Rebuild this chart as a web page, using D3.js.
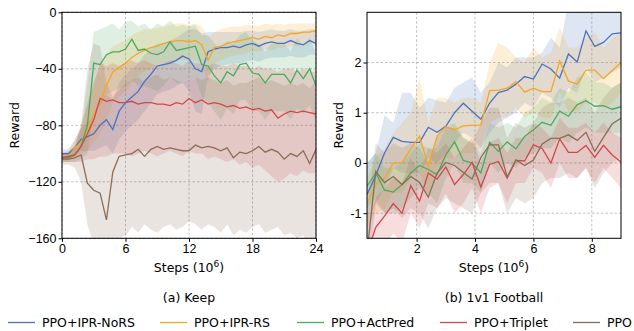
<!DOCTYPE html>
<html>
<head>
    <title>Keep / 1v1 Football</title>
    <script src="https://d3js.org/d3.v7.min.js"></script>
    <style>
        body { margin: 0; background: white; }
        svg { font-family: "DejaVu Sans", sans-serif; }
        .grid line { stroke: #b0b0b0; stroke-dasharray: 2.5,2; stroke-width: 0.8; }
        .tick text { font-size: 12.5px; fill: #000; }
    </style>
</head>
<body>
<svg width="634" height="331"></svg>
<script>
const seriesNames = ["PPO+IPR-NoRS", "PPO+IPR-RS", "PPO+ActPred", "PPO+Triplet", "PPO"];
const colors = ["#4a72c0", "#f5a623", "#4caa5c", "#d5454a", "#8c6c55"];

// ---- (a) Keep : steps 0..24 (x10^6), every 0.6
const keepSteps = [0,0.6,1.2,1.8,2.4,3.0,3.6,4.2,4.8,5.4,6.0,6.6,7.2,7.8,8.4,9.0,9.6,10.2,10.8,11.4,12.0,12.6,13.2,13.8,14.4,15.0,15.6,16.2,16.8,17.4,18.0,18.6,19.2,19.8,20.4,21.0,21.6,22.2,22.8,23.4,24.0];
const keepNoRS = [-100,-100,-96,-90,-88,-86,-80,-76,-83,-70,-64,-60,-56,-49,-44,-38,-37,-36,-34,-31,-33,-40,-42,-28,-26,-25,-25,-24,-25,-23,-22,-24,-22,-21,-22,-22,-20,-22,-23,-20,-22];
const keepNoRSLo = [-104,-104,-102,-98,-98,-98,-96,-94,-100,-90,-84,-80,-76,-70,-64,-58,-56,-55,-52,-50,-56,-70,-72,-45,-40,-38,-37,-36,-36,-35,-34,-35,-33,-32,-32,-32,-31,-32,-32,-30,-30];
const keepNoRSHi = [-97,-97,-90,-82,-78,-74,-64,-58,-62,-50,-44,-40,-36,-30,-26,-22,-22,-20,-18,-15,-12,-12,-15,-14,-14,-14,-14,-14,-14,-13,-13,-14,-13,-12,-13,-13,-12,-13,-13,-12,-12];
const keepRS = [-103,-103,-96,-92,-84,-72,-64,-52,-42,-39,-36,-32,-29,-27,-25,-24,-22,-21,-20,-20,-21,-20,-23,-34,-25,-24,-22,-21,-20,-19,-18,-19,-17,-18,-16,-17,-15,-15,-14,-14,-13];
const keepRSLo = [-106,-106,-102,-100,-98,-92,-86,-76,-64,-60,-56,-50,-45,-42,-40,-38,-36,-35,-34,-34,-34,-34,-36,-50,-36,-34,-32,-31,-30,-29,-28,-28,-26,-27,-25,-25,-24,-24,-23,-22,-22];
const keepRSHi = [-100,-100,-90,-82,-66,-50,-40,-30,-24,-22,-20,-16,-14,-12,-12,-11,-10,-9,-8,-8,-9,-8,-10,-18,-14,-12,-11,-10,-10,-9,-9,-10,-8,-9,-8,-9,-8,-8,-8,-8,-8];
const keepActPred = [-103,-103,-101,-95,-80,-36,-37,-30,-28,-28,-26,-19,-27,-26,-29,-30,-28,-21,-27,-26,-25,-24,-37,-38,-45,-50,-42,-45,-37,-36,-43,-44,-50,-44,-44,-44,-50,-41,-47,-40,-52];
const keepActPredLo = [-106,-106,-106,-104,-100,-70,-66,-58,-56,-54,-52,-48,-52,-52,-54,-56,-52,-46,-50,-50,-48,-46,-60,-64,-70,-76,-68,-72,-62,-62,-70,-70,-76,-70,-70,-70,-76,-68,-72,-66,-78];
const keepActPredHi = [-100,-100,-96,-84,-50,-14,-12,-10,-8,-12,-7,-6,-10,-8,-12,-8,-10,-6,-10,-9,-10,-9,-16,-16,-22,-26,-20,-22,-16,-14,-20,-22,-28,-22,-22,-22,-28,-18,-24,-18,-30];
const keepTriplet = [-103,-102,-101,-95,-86,-76,-61,-63,-62,-64,-64,-63,-65,-64,-64,-65,-65,-66,-64,-65,-61,-64,-62,-65,-64,-65,-67,-66,-68,-67,-69,-68,-70,-69,-75,-72,-70,-71,-70,-71,-72];
const keepTripletLo = [-106,-106,-106,-106,-104,-104,-102,-102,-100,-100,-100,-102,-100,-98,-100,-102,-100,-98,-100,-102,-98,-100,-100,-104,-102,-104,-106,-104,-108,-106,-110,-108,-112,-116,-120,-118,-114,-116,-112,-114,-114];
const keepTripletHi = [-100,-98,-94,-80,-64,-50,-36,-38,-36,-38,-36,-34,-36,-34,-36,-38,-36,-34,-36,-38,-34,-36,-36,-38,-36,-38,-38,-36,-38,-38,-40,-38,-40,-40,-42,-40,-40,-42,-40,-42,-42];
const keepPPO = [-104,-104,-103,-101,-121,-126,-128,-147,-113,-102,-101,-100,-97,-102,-97,-95,-97,-96,-97,-98,-98,-94,-96,-95,-96,-98,-96,-103,-99,-100,-98,-95,-99,-97,-99,-104,-100,-102,-98,-107,-97];
const keepPPOLo = [-108,-108,-110,-120,-150,-165,-170,-175,-170,-160,-158,-152,-156,-150,-154,-156,-152,-150,-154,-152,-148,-150,-154,-150,-152,-156,-150,-158,-154,-156,-152,-150,-156,-154,-152,-158,-156,-160,-158,-170,-175];
const keepPPOHi = [-100,-100,-96,-80,-40,-22,-24,-50,-60,-55,-50,-48,-46,-50,-46,-44,-48,-46,-48,-50,-48,-46,-48,-46,-48,-50,-48,-52,-50,-50,-48,-46,-50,-48,-50,-52,-50,-52,-50,-54,-48];
const keepTicksX = [0, 6, 12, 18, 24];
const keepTicksY = [0, -40, -80, -120, -160];

// ---- (b) 1v1 Football : steps 0.3..9.0 (x10^6), every 0.3
const footSteps = [0.3,0.6,0.9,1.2,1.5,1.8,2.1,2.4,2.7,3.0,3.3,3.6,3.9,4.2,4.5,4.8,5.1,5.4,5.7,6.0,6.3,6.6,6.9,7.2,7.5,7.8,8.1,8.4,8.7,9.0];
const footNoRS = [-0.63,-0.25,0.2,0.51,0.43,0.41,0.41,0.71,0.61,0.73,1.0,1.19,1.03,0.87,1.19,1.40,1.45,1.57,1.72,1.67,1.97,1.87,1.69,2.17,2.01,2.63,2.32,2.40,2.57,2.59];
const footNoRSLo = [-1.2,-0.8,-0.5,-0.1,-0.2,-0.2,-0.2,0.1,0.0,0.2,0.4,0.6,0.5,0.3,0.6,0.8,0.9,1.0,1.2,1.1,1.4,1.3,1.1,1.5,1.4,1.9,1.6,1.7,1.8,1.9];
const footNoRSHi = [0.0,0.2,0.95,0.8,1.4,1.4,1.1,1.3,1.25,1.2,1.5,1.6,1.7,1.4,1.6,2.0,1.9,2.1,2.1,2.1,2.2,2.5,2.3,3.2,3.0,3.4,3.2,3.2,3.3,3.3];
const footRS = [-0.81,-0.43,-0.3,0.0,0.0,0.28,0.53,-0.06,0.53,0.72,0.66,0.74,0.75,0.76,1.44,1.45,1.49,1.62,1.41,1.49,1.42,1.42,2.03,1.63,1.57,1.85,1.85,1.68,1.84,2.0];
const footRSLo = [-1.3,-1.0,-0.9,-0.6,-0.6,-0.3,-0.2,-0.7,-0.1,0.1,0.1,0.2,0.2,0.3,0.8,0.9,0.9,1.1,0.9,1.0,0.9,0.9,1.4,1.0,1.0,1.2,1.2,1.1,1.2,1.4];
const footRSHi = [-0.3,0.1,0.3,0.6,0.8,1.0,1.7,0.8,1.3,1.3,1.2,1.3,1.3,1.2,2.0,2.4,2.3,2.1,2.0,2.3,2.1,2.2,2.7,2.3,2.3,2.5,2.6,2.3,2.5,2.6];
const footActPred = [-0.46,-0.2,-0.54,-0.58,-0.43,-0.2,-0.05,-0.13,-0.23,0.16,0.42,0.05,0.0,-0.2,0.41,0.23,0.42,0.28,0.53,0.66,0.81,0.75,1.03,0.93,1.16,1.24,1.13,1.14,1.07,1.12];
const footActPredLo = [-0.9,-0.7,-1.0,-1.0,-0.9,-0.7,-0.5,-0.6,-0.8,-0.3,0.0,-0.4,-0.4,-0.6,0.0,-0.2,0.0,-0.1,0.1,0.2,0.3,0.3,0.5,0.4,0.6,0.7,0.6,0.6,0.6,0.6];
const footActPredHi = [0.0,0.2,-0.1,-0.1,0.0,0.2,0.4,0.3,0.3,0.7,0.8,0.5,0.4,0.2,0.8,0.7,0.8,0.7,1.0,1.1,1.3,1.2,1.5,1.4,1.7,1.8,1.6,1.6,1.5,1.6];
const footTriplet = [-1.8,-1.28,-1.06,-0.81,-1.0,-0.45,-0.76,-0.2,-0.32,-0.08,-0.43,-0.23,0.01,-0.48,-0.03,0.03,-0.30,0.05,0.04,0.36,0.29,0.0,0.48,0.21,0.21,0.35,0.11,0.35,0.16,0.02];
const footTripletLo = [-2.4,-1.9,-1.7,-1.4,-1.6,-1.0,-1.3,-0.8,-0.9,-0.6,-1.0,-0.8,-0.5,-1.0,-0.5,-0.4,-0.8,-0.4,-0.4,-0.1,-0.2,-0.5,0.0,-0.3,-0.3,-0.1,-0.4,-0.1,-0.3,-0.5];
const footTripletHi = [-1.2,-0.7,-0.5,-0.3,-0.4,0.1,-0.2,0.3,0.2,0.4,0.1,0.3,0.5,0.0,0.4,0.5,0.2,0.5,0.5,0.8,0.7,0.5,0.9,0.7,0.7,0.8,0.6,0.8,0.6,0.5];
const footPPO = [-1.8,-0.17,-0.39,-0.27,-0.43,-0.27,-0.39,-0.68,-0.2,0.01,-0.05,-0.19,-0.32,0.11,0.36,0.36,-0.28,0.06,-0.05,0.06,0.38,0.49,0.49,0.56,0.45,0.61,0.23,0.51,0.78,0.89];
const footPPOLo = [-2.5,-0.8,-1.0,-0.9,-1.1,-0.9,-1.0,-1.3,-0.9,-0.7,-0.8,-0.9,-1.0,-0.6,-0.4,-0.4,-1.0,-0.7,-0.8,-0.7,-0.4,-0.3,-0.3,-0.2,-0.3,-0.1,-0.5,-0.2,0.0,0.1];
const footPPOHi = [-0.9,0.4,0.2,0.4,0.3,0.4,0.3,0.0,0.5,0.7,0.7,0.5,0.4,0.8,1.1,1.1,0.5,0.8,0.7,0.8,1.1,1.2,1.2,1.3,1.2,1.3,1.0,1.3,1.5,1.6];
const footTicksX = [2, 4, 6, 8];
const footTicksY = [-1, 0, 1, 2];

const svg = d3.select("svg");

function drawPanel(opt) {
    const { left, right, top, bottom, xDomain, yDomain, steps, means, los, his,
            ticksX, ticksY, yFmt, caption, clipId, labelX } = opt;
    const x = d3.scaleLinear().domain(xDomain).range([left, right]);
    const y = d3.scaleLinear().domain(yDomain).range([bottom, top]);

    svg.append("clipPath").attr("id", clipId)
        .append("rect").attr("x", left).attr("y", top)
        .attr("width", right - left).attr("height", bottom - top);

    // grid
    const grid = svg.append("g").attr("class", "grid");
    grid.selectAll("line.v").data(ticksX).join("line").attr("class", "v")
        .attr("x1", d => x(d)).attr("x2", d => x(d)).attr("y1", top).attr("y2", bottom);
    grid.selectAll("line.h").data(ticksY).join("line").attr("class", "h")
        .attr("y1", d => y(d)).attr("y2", d => y(d)).attr("x1", left).attr("x2", right);

    const plot = svg.append("g").attr("clip-path", "url(#" + clipId + ")");

    const area = d3.area().x((d, i) => x(steps[i])).y0(d => y(d[0])).y1(d => y(d[1]));
    const line = d3.line().x((d, i) => x(steps[i])).y(d => y(d));

    // shaded bands first, then the mean curves on top
    means.forEach((m, k) => {
        const band = los[k].map((lo, i) => [lo, his[k][i]]);
        plot.append("path").datum(band)
            .attr("d", area).attr("fill", colors[k]).attr("fill-opacity", 0.18);
    });
    means.forEach((m, k) => {
        plot.append("path").datum(m)
            .attr("d", line).attr("fill", "none")
            .attr("stroke", colors[k]).attr("stroke-width", 1.3);
    });

    svg.append("g").attr("transform", "translate(0," + bottom + ")")
        .call(d3.axisBottom(x).tickValues(ticksX).tickSize(3.5).tickPadding(2))
        .call(g => g.select(".domain").remove());
    svg.append("g").attr("transform", "translate(" + left + ",0)")
        .call(d3.axisLeft(y).tickValues(ticksY).tickFormat(yFmt).tickSize(3.5).tickPadding(2))
        .call(g => g.select(".domain").remove());

    svg.append("rect").attr("x", left).attr("y", top)
        .attr("width", right - left).attr("height", bottom - top)
        .attr("fill", "none").attr("stroke", "#000").attr("stroke-width", 1);

    const cx = (left + right) / 2;
    const xl = svg.append("text").attr("x", cx).attr("y", 272)
        .attr("text-anchor", "middle").attr("font-size", 12.5);
    xl.append("tspan").text("Steps (10");
    xl.append("tspan").attr("dy", -5).attr("font-size", 9).text("6");
    xl.append("tspan").attr("dy", 5).text(")");

    svg.append("text")
        .attr("transform", "translate(" + labelX + "," + ((top + bottom) / 2) + ") rotate(-90)")
        .attr("text-anchor", "middle").attr("font-size", 12.5).text("Reward");

    svg.append("text").attr("x", cx).attr("y", 302).attr("text-anchor", "middle")
        .attr("font-size", 12.5).text(caption);
}

drawPanel({
    left: 62, right: 316, top: 12.3, bottom: 238.3,
    xDomain: [0, 24], yDomain: [-160, 0],
    steps: keepSteps,
    means: [keepNoRS, keepRS, keepActPred, keepTriplet, keepPPO],
    los: [keepNoRSLo, keepRSLo, keepActPredLo, keepTripletLo, keepPPOLo],
    his: [keepNoRSHi, keepRSHi, keepActPredHi, keepTripletHi, keepPPOHi],
    ticksX: keepTicksX, ticksY: keepTicksY,
    yFmt: d => d < 0 ? "\u2212" + Math.abs(d) : String(d),
    caption: "(a) Keep", clipId: "clipKeep", labelX: 19
});

drawPanel({
    left: 367, right: 621, top: 12.3, bottom: 238.3,
    xDomain: [0.3, 9.0], yDomain: [-1.5, 3.0],
    steps: footSteps,
    means: [footNoRS, footRS, footActPred, footTriplet, footPPO],
    los: [footNoRSLo, footRSLo, footActPredLo, footTripletLo, footPPOLo],
    his: [footNoRSHi, footRSHi, footActPredHi, footTripletHi, footPPOHi],
    ticksX: footTicksX, ticksY: footTicksY,
    yFmt: d => String(d),
    caption: "(b) 1v1 Football", clipId: "clipFoot", labelX: 343
});

// legend row along the bottom
const legendX = [8, 160, 297, 440, 573];
const legend = svg.append("g");
seriesNames.forEach((name, k) => {
    legend.append("line").attr("x1", legendX[k]).attr("x2", legendX[k] + 27)
        .attr("y1", 322.5).attr("y2", 322.5)
        .attr("stroke", colors[k]).attr("stroke-width", 1.3);
    legend.append("text").attr("x", legendX[k] + 34).attr("y", 327)
        .attr("font-size", 12.5).text(name);
});
</script>
</body>
</html>
